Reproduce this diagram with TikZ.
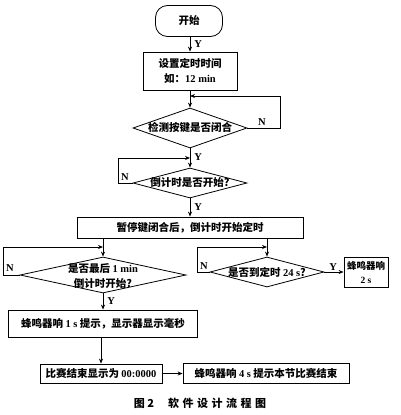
\documentclass[tikz,border=0pt]{standalone}
\usepackage{fontspec}
\setmainfont{Liberation Serif}
\newfontfamily\cjk{Noto Sans CJK SC}
\usetikzlibrary{shapes.geometric,arrows.meta}
\newcommand\lt[1]{{\rmfamily\bfseries #1}}
\begin{document}
\begin{tikzpicture}[x=1pt,y=-1pt,line width=0.8pt,
  every node/.style={font=\cjk\bfseries\fontsize{10.5}{15}\selectfont},
  box/.style={draw,rectangle,inner sep=0pt,align=center},
  term/.style={draw,rectangle,rounded corners=12pt,inner sep=0pt},
  dia/.style={draw,diamond,inner sep=0pt,aspect=3},
  yn/.style={font=\rmfamily\bfseries\fontsize{10.5}{12}\selectfont,inner sep=0pt},
  arr/.style={-{Stealth[length=5pt,width=4pt]}}]
\useasboundingbox (0,0) rectangle (400,415);
% nodes
\node[term,minimum width=67pt,minimum height=31pt] (start) at (189,21) {开始};
\node[box,minimum width=94pt,minimum height=38pt] (set) at (190,71) {设置定时时间\\如：\lt{12 min}};
\node[dia,minimum width=114pt,minimum height=40pt] (d1) at (190,128) {};
\node at (d1) {检测按键是否闭合};
\node[dia,minimum width=114pt,minimum height=30pt] (d2) at (190,183) {};
\node at (d2) {倒计时是否开始?};
\node[box,minimum width=226pt,minimum height=21pt] (big) at (190,227.5) {暂停键闭合后，倒计时开始定时};
\node[dia,minimum width=166pt,minimum height=36pt] (d3) at (103,275) {};
\node[align=center] at (103,276) {是否最后 \lt{1 min}\\倒计时开始?};
\node[dia,minimum width=114pt,minimum height=30pt] (d4) at (267,272) {};
\node at (d4) {是否到定时 \lt{24 s}?};
\node[box,minimum width=44pt,minimum height=30pt,font=\cjk\bfseries\fontsize{9.5}{14}\selectfont] (b2s) at (366,272) {蜂鸣器响\\\lt{2 s}};
\node[box,minimum width=189pt,minimum height=27pt] (b1s) at (103,323.5) {蜂鸣器响 \lt{1 s} 提示，显示器显示毫秒};
\node[box,minimum width=122pt,minimum height=19pt] (end) at (101,373.5) {比赛结束显示为 \lt{00:0000}};
\node[box,minimum width=166pt,minimum height=20pt] (fin) at (266,373.5) {蜂鸣器响 \lt{4 s} 提示本节比赛结束};
\node[font=\cjk\bfseries\fontsize{11}{13}\selectfont] (cap) at (200,403) {图 2\hspace{14pt}软\hspace{3.5pt}件\hspace{3.5pt}设\hspace{3.5pt}计\hspace{3.5pt}流\hspace{3.5pt}程\hspace{3.5pt}图};
% coordinates
\coordinate (m1) at (190,96);
\coordinate (m2) at (190,158);
\coordinate (m3) at (103,247);
\coordinate (m4) at (267,247);
% connectors
\draw[arr] (start.south -| set.north) -- (set) node[yn,pos=0.5,right=4pt] {Y};
\draw[arr] (set) -- (d1);
\draw[arr] (d1.east) -- (280,128) |- (m1);
\node[yn] at (262,122) {N};
\draw[arr] (d1) -- (d2) node[yn,pos=0.45,right=4pt] {Y};
\draw[arr] (d2.west) -- (118,183) |- (m2);
\node[yn] at (125,177) {N};
\draw[arr] (d2) -- (big) node[yn,pos=0.45,right=4pt] {Y};
\draw[arr] (big.south -| d3.north) -- (d3.north);
\draw[arr] (big.south -| d4.north) -- (d4.north);
\draw[arr] (d3.west) -- (3,275) |- (m3);
\node[yn] at (10,268) {N};
\draw[arr] (d4.west) -- (197,272) |- (m4);
\node[yn] at (204,266) {N};
\draw[arr] (d4) -- (b2s) node[yn,pos=0.45,above=1pt] {Y};
\draw[arr] (d3) -- (b1s) node[yn,pos=0.45,right=4pt] {Y};
\draw[arr] (b1s.south -| end.north) -- (end);
\draw[arr] (end) -- (fin);
\end{tikzpicture}
\end{document}
